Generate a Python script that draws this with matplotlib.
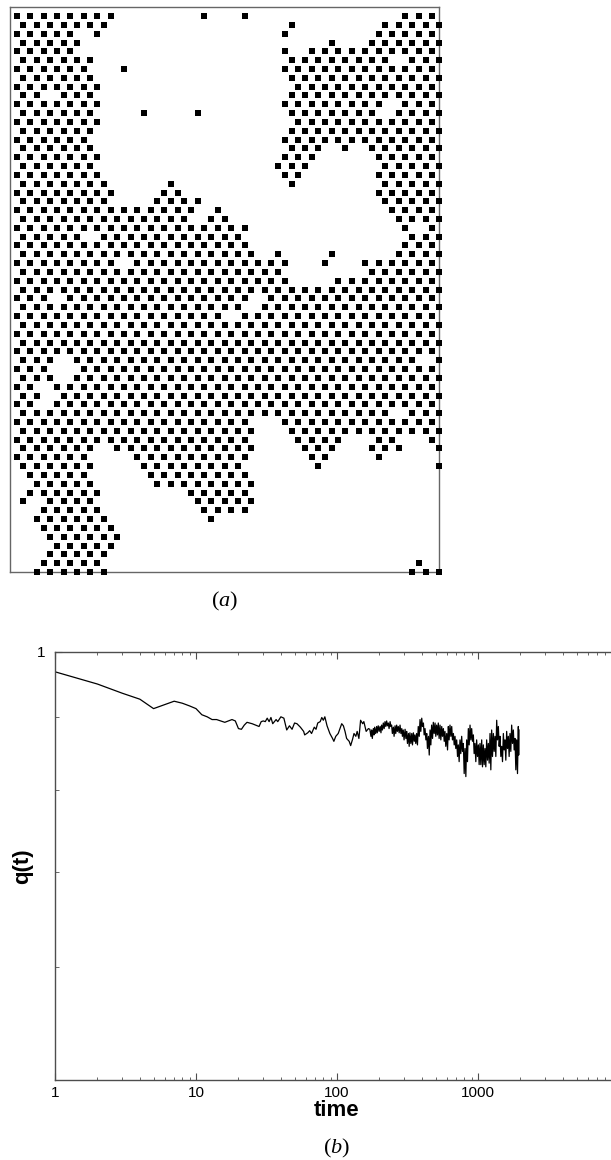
import matplotlib
matplotlib.use("Agg")
import matplotlib.pyplot as plt
from matplotlib.ticker import FixedLocator, NullFormatter, LogLocator

plt.rcParams["font.family"] = ["Liberation Sans", "DejaVu Sans"]
plt.rcParams["mathtext.fontset"] = "custom"
plt.rcParams["mathtext.rm"] = "Liberation Serif"
plt.rcParams["mathtext.it"] = "Liberation Serif:italic"

# occupied sites of the 64x64 lattice, top row first.
# "a-b" means every second site from a to b, a single number is one site
rows = [
    "1-15 29 35 59-63",
    "2-14 42 56-64",
    "1-9 13 41 55-63",
    "2-10 48 54-64",
    "1-9 41 45-63",
    "2-12 42-56 60-64",
    "1-11 17 41-63",
    "2-12 42-64",
    "1-13 43-63",
    "2-4 8-12 42-64",
    "1-13 41-55 59-63",
    "2-12 20 28 42-54 58-64",
    "1-13 43-63",
    "2-12 42-64",
    "1-11 41-63",
    "2-12 42-46 50 54-64",
    "1-13 41-45 55-63",
    "2-12 40-44 56-64",
    "1-13 41-43 55-63",
    "2-14 24 42 56-64",
    "1-15 23-25 55-63",
    "2-14 22-28 56-64",
    "1-27 31 57-63",
    "2-26 30-32 58-64",
    "1-35 59 63",
    "2-10 14-34 60-64",
    "1-35 59-63",
    "2-36 40 48 58-64",
    "1-15 19-41 47 53-63",
    "2-40 54-64",
    "1-41 49-63",
    "2-64",
    "1-5 9-35 39-63",
    "2-34 38-64",
    "1-31 35-63",
    "2-64",
    "1-63",
    "2-64",
    "1-63",
    "2-6 10-60 64",
    "1-5 11-63",
    "2-6 10-64",
    "1-3 7-63",
    "2-4 8-64",
    "1-3 7-63",
    "2-56 60-64",
    "1-35 41-63",
    "2-36 42-64",
    "1-35 43-49 55-57 63",
    "2-12 16-36 44-48 54-58 64",
    "1-11 19-35 45-47 55",
    "2-12 20-34 46 64",
    "3-11 21-35",
    "4-12 22-36",
    "3-13 27-35",
    "2 6-12 28-36",
    "5-13 29-35",
    "4-14 30",
    "5-15",
    "6-16",
    "7-15",
    "6-14",
    "5-13 61",
    "4-14 60-64",
]

time = [
    1, 2, 3, 4, 5, 6, 7, 8, 9, 10, 11, 12, 13, 14, 15, 16, 17, 18, 19, 20,
    21, 22, 23, 25, 28, 29, 30, 31, 32, 33, 34, 35, 37, 38, 40, 42, 44, 46,
    48, 50, 52, 55, 58, 59, 62, 64, 66, 69, 71, 73, 76, 78, 80, 82, 85, 89,
    93, 95, 98, 102, 108, 111, 114, 117, 122, 125, 129, 132, 136, 139, 143,
    147, 152, 155, 161, 167,
    171, 174, 176, 178, 181, 183, 185, 188, 191, 193, 196, 199, 202, 205,
    207, 210, 213, 216, 219, 222, 225, 228, 231, 234, 238, 241, 244, 247,
    251, 254, 258, 261, 265, 268, 272, 276, 280, 284, 288, 291, 295, 299,
    304, 308, 312, 316, 321, 325, 329, 334, 339, 343, 348, 353, 357, 362,
    367, 372, 377, 383, 388, 393, 399, 404, 410, 415, 421, 427, 433, 438,
    445, 451, 457, 463, 469, 476, 482, 489, 496, 502, 509, 516, 523, 530,
    538, 545, 553, 560, 568, 576, 583, 591, 600, 608, 616, 624, 633, 642,
    651, 659, 669, 678, 687, 696, 706, 716, 725, 735, 745, 755, 766, 776,
    787, 798, 809, 820, 831, 842, 854, 866, 878, 890, 902, 914, 927, 939,
    952, 965, 978, 992, 1006, 1019, 1033, 1047, 1062, 1076, 1091, 1106,
    1121, 1136, 1152, 1168, 1184, 1200, 1217, 1233, 1250, 1267, 1285, 1302,
    1320, 1338, 1357, 1375, 1394, 1413, 1432, 1452, 1472, 1492, 1513, 1533,
    1554, 1575, 1597, 1619, 1641, 1663, 1686, 1709, 1733, 1757, 1781, 1805,
    1830, 1855, 1880, 1906, 1932, 1943, 1953,
]

overlap = [
    0.968, 0.949, 0.935, 0.926, 0.912, 0.918, 0.923, 0.920, 0.916, 0.912,
    0.903, 0.900, 0.896, 0.896, 0.894, 0.892, 0.894, 0.896, 0.894, 0.883,
    0.882, 0.888, 0.892, 0.890, 0.886, 0.893, 0.894, 0.893, 0.898, 0.893,
    0.899, 0.890, 0.896, 0.893, 0.900, 0.898, 0.881, 0.887, 0.882, 0.891,
    0.890, 0.885, 0.879, 0.874, 0.877, 0.880, 0.876, 0.885, 0.882, 0.891,
    0.893, 0.899, 0.895, 0.900, 0.887, 0.876, 0.869, 0.865, 0.872, 0.876,
    0.890, 0.887, 0.879, 0.869, 0.865, 0.859, 0.868, 0.876, 0.872, 0.879,
    0.869, 0.895, 0.890, 0.893, 0.879, 0.883,
    0.882, 0.872, 0.881, 0.869, 0.883, 0.874, 0.885, 0.876, 0.886, 0.877,
    0.887, 0.879, 0.886, 0.877, 0.888, 0.881, 0.891, 0.883, 0.893, 0.886,
    0.894, 0.887, 0.891, 0.883, 0.893, 0.886, 0.888, 0.876, 0.885, 0.872,
    0.887, 0.876, 0.888, 0.879, 0.886, 0.877, 0.888, 0.876, 0.883, 0.872,
    0.881, 0.867, 0.882, 0.869, 0.879, 0.862, 0.876, 0.858, 0.877, 0.862,
    0.876, 0.860, 0.877, 0.865, 0.874, 0.862, 0.876, 0.860, 0.886, 0.872,
    0.896, 0.879, 0.898, 0.886, 0.891, 0.874, 0.883, 0.867, 0.876, 0.855,
    0.872, 0.846, 0.881, 0.860, 0.888, 0.869, 0.892, 0.876, 0.891, 0.872,
    0.888, 0.874, 0.891, 0.869, 0.888, 0.867, 0.886, 0.872, 0.883, 0.865,
    0.879, 0.858, 0.876, 0.853, 0.886, 0.867, 0.888, 0.872, 0.886, 0.867,
    0.876, 0.860, 0.872, 0.855, 0.867, 0.844, 0.860, 0.837, 0.867, 0.848,
    0.872, 0.851, 0.862, 0.821, 0.855, 0.817, 0.867, 0.837, 0.883, 0.860,
    0.888, 0.867, 0.883, 0.865, 0.874, 0.848, 0.862, 0.837, 0.867, 0.844,
    0.860, 0.833, 0.862, 0.833, 0.867, 0.830, 0.860, 0.833, 0.855, 0.830,
    0.867, 0.839, 0.862, 0.835, 0.876, 0.826, 0.881, 0.844, 0.876, 0.851,
    0.872, 0.844, 0.895, 0.867, 0.886, 0.858, 0.872, 0.844, 0.858, 0.837,
    0.876, 0.853, 0.867, 0.839, 0.879, 0.855, 0.872, 0.844, 0.876, 0.851,
    0.888, 0.862, 0.881, 0.853, 0.869, 0.826, 0.867, 0.821, 0.886, 0.846,
    0.881,
]

# labelled decades on the time axis
time_ticks = [1, 10, 100, 1000, 10000]
time_labels = ["1", "10", "100", "1000", ""]


def sites(spec):
    out = []
    for tok in spec.split():
        if "-" in tok:
            a, b = map(int, tok.split("-"))
            out.extend(range(a, b + 1, 2))
        else:
            out.append(int(tok))
    return out


fig = plt.figure(figsize=(6.11, 11.6), dpi=100)

# (a) lattice snapshot
ax1 = fig.add_axes([10 / 611, 1 - 572 / 1160, 429 / 611, 564.8 / 1160])
xs, ys = [], []
for r, spec in enumerate(rows):
    for k in sites(spec):
        xs.append(k)
        ys.append(63 - r)
ax1.plot(xs, ys, ls="none", marker="s", ms=4.0, mfc="black", mec="black",
         mew=0, clip_on=False, zorder=3)
ax1.set_xlim(0, 64)
ax1.set_ylim(0, 64)
ax1.set_xticks([])
ax1.set_yticks([])
for s in ax1.spines.values():
    s.set_color("0.4")
    s.set_linewidth(1.0)
fig.text(224.5 / 611, 1 - 601 / 1160, r"($a$)", ha="center", va="center",
         fontsize=16, family="Liberation Serif")

# (b) overlap vs time
ax2 = fig.add_axes([55 / 611, 1 - 1080 / 1160, 564 / 611, 428.3 / 1160])
ax2.plot(time, overlap, color="black", lw=0.9)
ax2.set_xscale("log")
ax2.set_yscale("log")
ax2.set_xlim(1, 1e4)
ax2.set_ylim(0.5, 1)

ax2.xaxis.set_major_locator(FixedLocator(time_ticks))
ax2.set_xticklabels(time_labels)
ax2.xaxis.set_minor_locator(LogLocator(base=10, subs=range(2, 10)))
ax2.xaxis.set_minor_formatter(NullFormatter())
ax2.yaxis.set_major_locator(FixedLocator([1]))
ax2.set_yticklabels(["1"])
ax2.yaxis.set_minor_locator(FixedLocator([0.6, 0.7, 0.8, 0.9]))
ax2.yaxis.set_minor_formatter(NullFormatter())

ax2.tick_params(which="both", direction="in", top=True, right=False,
                color="0.3", labelsize=11)
ax2.tick_params(axis="x", which="major", length=5, pad=4)
ax2.tick_params(axis="x", which="minor", length=2.5)
ax2.tick_params(axis="y", which="major", length=5, pad=7)
ax2.tick_params(axis="y", which="minor", length=3)
for s in ax2.spines.values():
    s.set_color("0.3")
    s.set_linewidth(1.0)

ax2.set_xlabel("time", fontsize=16, fontweight="bold", labelpad=0)
ax2.set_ylabel("q(t)", fontsize=16, fontweight="bold")
ax2.yaxis.set_label_coords(-0.038, 0.5)
fig.text(337 / 611, 1 - 1148 / 1160, r"($b$)", ha="center", va="center",
         fontsize=16, family="Liberation Serif")

fig.savefig("out.png", dpi=100)
